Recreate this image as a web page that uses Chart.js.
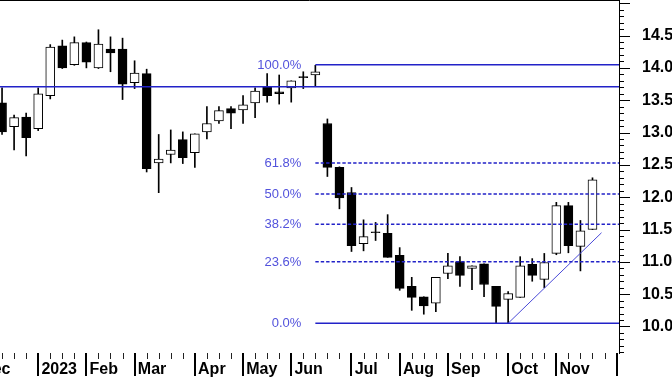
<!DOCTYPE html>
<html>
<head>
<meta charset="utf-8">
<script src="https://cdn.jsdelivr.net/npm/chart.js@4/dist/chart.umd.min.js"></script>
<style>
html,body{margin:0;padding:0;background:#fff;}
#wrap{width:672px;height:378px;position:relative;}
</style>
</head>
<body>
<div id="wrap"><canvas id="c" width="672" height="378"></canvas></div>
<script>
// ---- data (weekly candles) ----
const weeks = ['2022-12-16','2022-12-23','2022-12-30','2023-01-06','2023-01-13','2023-01-20','2023-01-27',
  '2023-02-03','2023-02-10','2023-02-17','2023-02-24','2023-03-03','2023-03-10','2023-03-17','2023-03-24',
  '2023-03-31','2023-04-07','2023-04-14','2023-04-21','2023-04-28','2023-05-05','2023-05-12','2023-05-19',
  '2023-05-26','2023-06-02','2023-06-09','2023-06-16','2023-06-23','2023-06-30','2023-07-07','2023-07-14',
  '2023-07-21','2023-07-28','2023-08-04','2023-08-11','2023-08-18','2023-08-25','2023-09-01','2023-09-08',
  '2023-09-15','2023-09-22','2023-09-29','2023-10-06','2023-10-13','2023-10-20','2023-10-27','2023-11-03',
  '2023-11-10','2023-11-17','2023-11-24'];
const opens  = [13.46,13.09,13.24,13.06,13.57,14.34,14.05,14.39,14.00,14.29,14.29,13.77,13.91,12.53,12.66,12.89,12.69,13.01,13.18,13.37,13.35,13.46,13.71,13.63,13.69,13.85,13.89,13.14,12.46,12.07,11.28,11.45,11.44,11.10,10.62,10.46,10.36,10.82,11.00,10.90,10.97,10.62,10.42,10.45,10.96,10.73,11.13,11.87,11.24,11.50];
const highs  = [13.69,13.27,13.30,13.69,14.36,14.43,14.48,14.40,14.59,14.48,14.46,14.11,13.98,12.97,13.04,13.01,12.98,13.40,13.40,13.40,13.57,13.69,13.91,13.89,13.80,13.94,14.04,13.21,12.47,12.15,11.65,11.61,11.73,11.22,10.76,10.46,10.76,11.13,11.08,10.94,10.97,10.62,10.54,11.08,11.05,11.13,11.92,11.92,11.64,12.30];
const lows   = [12.97,12.73,12.64,13.03,13.52,13.99,14.04,14.00,13.99,13.94,13.51,13.68,12.39,12.07,12.53,12.52,12.46,12.90,13.14,13.06,13.14,13.23,13.47,13.44,13.47,13.68,13.72,12.32,11.82,11.16,11.17,11.33,11.07,10.56,10.25,10.19,10.23,10.74,10.62,10.57,10.46,10.05,10.05,10.45,10.70,10.60,11.11,11.14,10.86,11.50];
const closes = [13.01,13.23,12.92,13.60,14.32,14.00,14.39,14.09,14.37,14.23,13.75,13.92,12.44,12.59,12.73,12.61,12.98,13.14,13.34,13.30,13.43,13.64,13.57,13.60,13.80,13.85,13.94,12.46,11.99,11.25,11.39,11.45,11.07,10.59,10.45,10.32,10.76,10.94,10.79,10.94,10.65,10.31,10.51,10.94,10.79,10.99,11.87,11.25,11.48,12.27];

// ---- axis tick labels ----
const monthTickIdx = [-2, 3, 7, 11, 16, 20, 24, 29, 33, 37, 42, 46, 51];
const monthLabels  = ['Dec','2023','Feb','Mar','Apr','May','Jun','Jul','Aug','Sep','Oct','Nov','Dec'];
const yTickValues  = [10.0, 10.5, 11.0, 11.5, 12.0, 12.5, 13.0, 13.5, 14.0, 14.5];

// ---- annotations ----
const fibLevels = [14.05, 12.53, 12.05, 11.58, 11.00, 10.05];
const fibLabels = ['100.0%','61.8%','50.0%','38.2%','23.6%','0.0%'];
const fibDashed = [false, true, true, true, true, false];
const fibStartIdx = 26;
const resistanceLevel = 13.71;
const trendIdx = [42, 49.75];
const trendVal = [10.05, 11.45];

// ---- scale settings ----
const X_MIN = -0.17, X_MAX = 51.2;
const Y_MIN = 9.59, Y_MAX = 15.05;
const LINE_COLOR = '#2222c8';
const FIB_TEXT = '#5252dc';

const datasets = [];
datasets.push({
  type: 'bar', label: 'wick', order: 3, grouped: false,
  data: lows.map((l, i) => ({x: i, y: [l, highs[i]]})),
  backgroundColor: '#000', borderWidth: 0, barThickness: 1
});
datasets.push({
  type: 'bar', label: 'body', order: 2, grouped: false,
  data: opens.map((o, i) => ({x: i, y: [o, closes[i]]})),
  backgroundColor: opens.map((o, i) => closes[i] > o ? '#ffffff' : '#000000'),
  borderColor: '#000', borderWidth: 1, borderSkipped: false,
  barThickness: 9, minBarLength: 1
});
fibLevels.forEach((lv, k) => {
  datasets.push({
    type: 'line', label: fibLabels[k], order: 0,
    data: [{x: fibStartIdx, y: lv}, {x: X_MAX, y: lv}],
    borderColor: LINE_COLOR, borderWidth: 1.5,
    borderDash: fibDashed[k] ? [3.4, 2] : [],
    pointRadius: 0, fill: false
  });
});
datasets.push({
  type: 'line', label: 'resistance', order: 0,
  data: [{x: X_MIN, y: resistanceLevel}, {x: X_MAX, y: resistanceLevel}],
  borderColor: LINE_COLOR, borderWidth: 1.5, pointRadius: 0, fill: false
});
datasets.push({
  type: 'line', label: 'trend', order: 0,
  data: trendIdx.map((t, i) => ({x: t, y: trendVal[i]})),
  borderColor: '#4a4ad8', borderWidth: 1, pointRadius: 0, fill: false
});

const decorPlugin = {
  id: 'decor',
  afterDraw(chart) {
    const ctx = chart.ctx;
    const xs = chart.scales.x, ys = chart.scales.y;
    const area = chart.chartArea;
    ctx.save();
    // top frame line
    ctx.strokeStyle = '#000';
    ctx.lineWidth = 1;
    ctx.beginPath();
    ctx.moveTo(area.left, area.top + 0.5);
    ctx.lineTo(area.right, area.top + 0.5);
    ctx.stroke();
    // y ticks (major every 0.5, minor every 0.1)
    for (let v = Math.ceil(ys.min * 10); v <= Math.floor(ys.max * 10); v++) {
      const py = Math.round(ys.getPixelForValue(v / 10)) + 0.5;
      const len = (v % 5 === 0) ? 11 : 5;
      ctx.beginPath();
      ctx.moveTo(ys.left, py);
      ctx.lineTo(ys.left + len, py);
      ctx.stroke();
    }
    // x ticks: weekly minor, monthly major
    for (let i = Math.ceil(xs.min); i <= Math.floor(xs.max); i++) {
      const px = xs.getPixelForValue(i);
      const major = monthTickIdx.includes(i);
      ctx.lineWidth = major ? 2 : 1;
      ctx.strokeStyle = major ? '#000' : '#222';
      const x = major ? Math.round(px) : Math.round(px) + 0.5;
      ctx.beginPath();
      ctx.moveTo(x, xs.top);
      ctx.lineTo(x, xs.top + (major ? 23 : 6));
      ctx.stroke();
    }
    // fib labels
    ctx.fillStyle = FIB_TEXT;
    ctx.font = '13px "Liberation Sans", Arial, sans-serif';
    ctx.textAlign = 'right';
    ctx.textBaseline = 'middle';
    const lx = xs.getPixelForValue(fibStartIdx) - 14;
    fibLevels.forEach((lv, k) => {
      ctx.fillText(fibLabels[k], lx, ys.getPixelForValue(lv) + 0.5);
    });
    ctx.restore();
  }
};

new Chart(document.getElementById('c'), {
  type: 'bar',
  data: { datasets },
  options: {
    responsive: false,
    animation: false,
    devicePixelRatio: 1,
    layout: { padding: 0 },
    plugins: { legend: { display: false }, tooltip: { enabled: false } },
    scales: {
      x: {
        type: 'linear', min: X_MIN, max: X_MAX, offset: false,
        afterBuildTicks(scale) { scale.ticks = monthTickIdx.map(v => ({value: v})); },
        afterFit(scale) {
          scale.height = 25; scale.paddingLeft = 0; scale.paddingRight = 0;
          scale.paddingTop = 0; scale.paddingBottom = 0;
          if (!scale._clipWrapped) {
            const orig = scale.drawLabels;
            scale.drawLabels = function(a) {
              const c = this.ctx;
              c.save();
              c.beginPath();
              c.rect(this.left, this.top, this.right - this.left, this.bottom - this.top);
              c.clip();
              orig.call(this, a);
              c.restore();
            };
            scale._clipWrapped = true;
          }
        },
        grid: { display: true, drawOnChartArea: false, drawTicks: false },
        border: { display: false },
        ticks: {
          autoSkip: false, maxRotation: 0, minRotation: 0, align: 'start', padding: 7,
          color: '#000', font: { family: '"Liberation Sans", Arial, sans-serif', size: 16, weight: 'bold' },
          callback: (v) => { const k = monthTickIdx.indexOf(v); return k >= 0 ? '\u2009' + monthLabels[k] : ''; }
        }
      },
      y: {
        type: 'linear', position: 'right', min: Y_MIN, max: Y_MAX,
        afterBuildTicks(scale) { scale.ticks = yTickValues.map(v => ({value: v})); },
        afterFit(scale) {
          scale.width = 53;
          scale.paddingTop = 0; scale.paddingBottom = 0; scale.paddingLeft = 0; scale.paddingRight = 0;
        },
        grid: { display: true, drawOnChartArea: false, drawTicks: false },
        border: { display: true, color: '#000', width: 1 },
        ticks: {
          padding: 23, color: '#000',
          font: { family: '"Liberation Sans", Arial, sans-serif', size: 16, weight: 'bold' },
          callback: (v) => Number(v).toFixed(1)
        }
      }
    }
  },
  plugins: [decorPlugin]
});
</script>
</body>
</html>
